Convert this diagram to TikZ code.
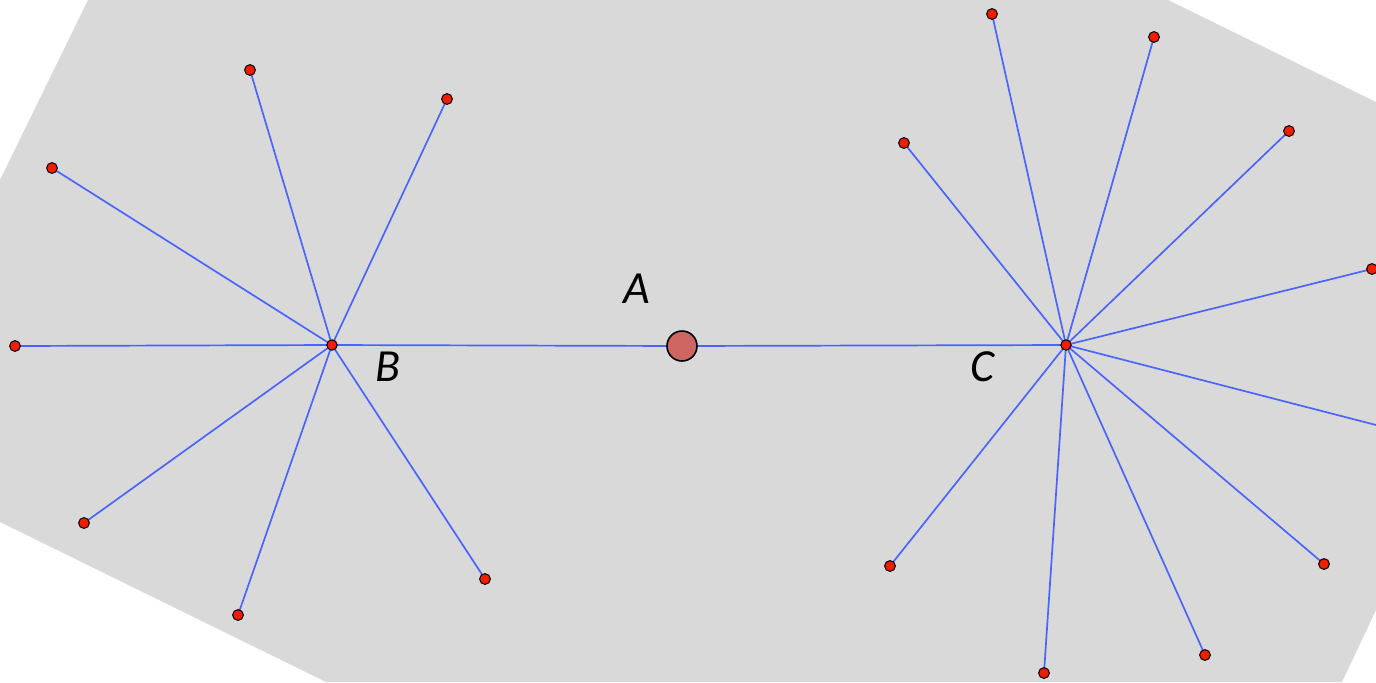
\documentclass[tikz,border=0pt]{standalone}
\usepackage{fontspec}
\setmainfont{Carlito}
\begin{document}
\begin{tikzpicture}[x=0.5pt,y=-0.5pt,
  edge/.style={draw=linkblue,line width=0.85pt},
  leaf/.style={circle,fill=dotred,draw=black,line width=0.5pt,inner sep=0pt,minimum size=5.4pt},
  hub/.style={circle,fill=dotred,draw=black,line width=0.5pt,inner sep=0pt,minimum size=5.2pt},
  big/.style={circle,fill=bigred,draw=black,line width=0.8pt,inner sep=0pt,minimum size=15pt},
  lbl/.style={font=\fontsize{23}{23}\selectfont\itshape,inner sep=0pt}]
\definecolor{bg}{RGB}{217,217,217}
\definecolor{linkblue}{RGB}{75,100,250}
\definecolor{dotred}{RGB}{240,30,0}
\definecolor{bigred}{RGB}{205,102,96}
\useasboundingbox (0,0) rectangle (1376,682);
\fill[bg] (88,0) -- (1168,0) -- (1376,102) -- (1376,610) -- (1342,682) -- (326,682) -- (0,522) -- (0,180) -- cycle;
% hubs
\coordinate (B) at (332,345);
\coordinate (A) at (682,346);
\coordinate (C) at (1066,345);
% B leaves
\coordinate (b1) at (250,70);
\coordinate (b2) at (447,99);
\coordinate (b3) at (52,168);
\coordinate (b4) at (15,346);
\coordinate (b5) at (84,523);
\coordinate (b6) at (238,615);
\coordinate (b7) at (485,579);
% C leaves
\coordinate (c1) at (992,14);
\coordinate (c2) at (1154,37);
\coordinate (c3) at (904,143);
\coordinate (c4) at (1289,131);
\coordinate (c5) at (1372,269);
\coordinate (c6) at (1376,425);
\coordinate (c7) at (1324,564);
\coordinate (c8) at (1205,655);
\coordinate (c9) at (1044,673);
\coordinate (c10) at (890,566);
% edges
\path[edge] (B) -- (A) (A) -- (C);
\foreach \n in {b1,b2,b3,b4,b5,b6,b7} \path[edge] (B) -- (\n);
\foreach \n in {c1,c2,c3,c4,c5,c6,c7,c8,c9,c10} \path[edge] (C) -- (\n);
% nodes on top
\node[hub] (nB) at (B) {};
\node[hub] (nC) at (C) {};
\node[big] (nA) at (A) {};
\foreach \n in {b1,b2,b3,b4,b5,b6,b7,c1,c2,c3,c4,c5,c7,c8,c9,c10} \node[leaf] (n\n) at (\n) {};
% labels
\node[lbl] (lA) at (637,289) {A};
\node[lbl] (lB) at (388,367) {B};
\node[lbl] (lC) at (983,367) {C};
\end{tikzpicture}
\end{document}
